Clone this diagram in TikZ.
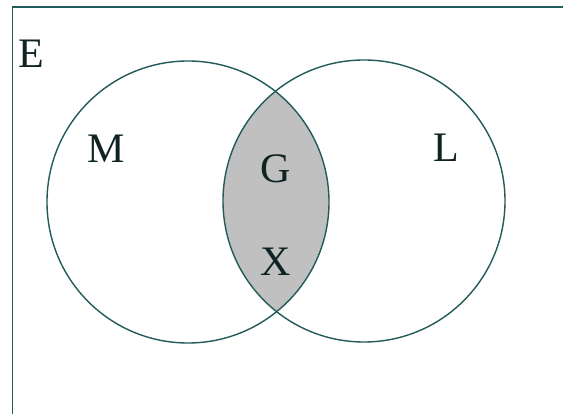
\documentclass[tikz,border=0pt]{standalone}
\usepackage{fontspec}
\setmainfont{Liberation Serif}
\usepackage{tikz}
\definecolor{vennline}{RGB}{35,90,90}
\definecolor{venntext}{RGB}{15,35,35}
\definecolor{vennfill}{RGB}{192,192,192}
\usetikzlibrary{positioning}
\tikzset{setline/.style={vennline,line width=1.4pt}}
\tikzset{frame/.style={vennline,line width=1.5pt}}
\tikzset{setlabel/.style={venntext,inner sep=0pt,font=\fontsize{42}{50}\selectfont}}

\begin{document}
\begin{tikzpicture}[x=1pt,y=1pt]
  \clip (0,0) rectangle (563,413);
  \fill[white] (0,0) rectangle (563,413);
  % Sets
  \coordinate (cM) at (188,211);
  \coordinate (cL) at (364,212);

  % Universe
  \draw[frame] (12.5,-10) rectangle (580,406);

  % Intersection
  \begin{scope}
    \clip (cM) circle (141);
    \fill[vennfill] (cL) circle (141);
  \end{scope}
  \draw[setline] (cM) circle (141);
  \draw[setline] (cL) circle (141);

  % Labels
  \node[setlabel] (E) at (31,359) {E};
  \node[setlabel] (M) at (106,264) {M};
  \node[setlabel] (L) at (446,265) {L};
  \node[setlabel] (G) at (276,244) {G};
  \node[setlabel] (X) at (276,151) {X};
\end{tikzpicture}
\end{document}
